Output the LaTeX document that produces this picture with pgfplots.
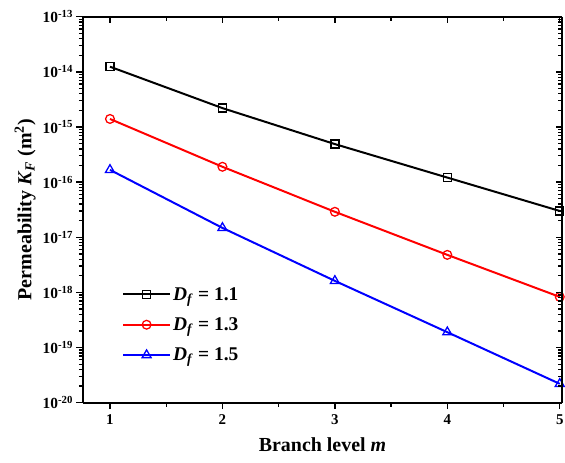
\documentclass[border=0pt]{standalone}
\usepackage{fontspec}
\setmainfont{Liberation Serif}
\usepackage{pgfplots}
\pgfplotsset{compat=1.18}
\pgfplotsset{
  common/.style={
    scale only axis, width=479bp, height=386bp,
    xmin=0.76, xmax=5.02, ymin=1e-20, ymax=1e-13,
    xtick={1,2,3,4,5}, minor x tick num=1,
    ytick={1e-20,1e-19,1e-18,1e-17,1e-16,1e-15,1e-14,1e-13},
    major tick length=6.5bp, minor tick length=4bp,
    every tick/.style={black, line width=1.3pt},
    axis line style={line width=1.8pt},
  }
}
\begin{document}
\begin{tikzpicture}
\begin{semilogyaxis}[common, name=main,
  axis x line*=bottom, axis y line*=left, tick align=outside,
  yticklabels={10\textsuperscript{-20},10\textsuperscript{-19},10\textsuperscript{-18},10\textsuperscript{-17},10\textsuperscript{-16},10\textsuperscript{-15},10\textsuperscript{-14},10\textsuperscript{-13}},
  yticklabel style={font=\bfseries\fontsize{15.5}{17}\selectfont},
  xticklabel style={font=\bfseries\fontsize{15}{17}\selectfont, yshift=-2bp},
  /pgf/number format/assume math mode=true,
  xlabel={\textbf{Branch level \textit{m}}},
  ylabel={\textbf{Permeability \textit{K}\textsubscript{\textit{F}} (m\textsuperscript{2})}},
  label style={font=\bfseries\fontsize{20}{22}\selectfont},
  xlabel style={yshift=-6bp},
  ylabel style={yshift=0bp},
  legend style={at={(0.075,0.31)}, anchor=north west, draw=none, fill=none,
    font=\bfseries\fontsize{19.5}{21}\selectfont, row sep=12bp},
  legend cell align=left,
  legend image code/.code={\draw[mark repeat=2, mark phase=2, line width=2pt] plot coordinates {(0bp,0bp) (23.5bp,0bp) (47bp,0bp)};},
]
\addplot[black, line width=2pt, mark=square, mark size=4pt, mark options={line width=1.3pt, fill=white}]
  coordinates {(1,1.24e-14) (2,2.2e-15) (3,4.9e-16) (4,1.21e-16) (5,3.0e-17)};
\addlegendentry{\textit{D}\textsubscript{\textit{f}} = 1.1}
\addplot[red, line width=2pt, mark=o, mark size=4.4pt, mark options={line width=1.3pt, fill=white}]
  coordinates {(1,1.4e-15) (2,1.9e-16) (3,2.9e-17) (4,4.8e-18) (5,8.3e-19)};
\addlegendentry{\textit{D}\textsubscript{\textit{f}} = 1.3}
\addplot[blue, line width=2pt, mark=triangle, mark size=5.2pt, mark options={line width=1.3pt, fill=white}]
  coordinates {(1,1.67e-16) (2,1.48e-17) (3,1.62e-18) (4,1.9e-19) (5,2.2e-20)};
\addlegendentry{\textit{D}\textsubscript{\textit{f}} = 1.5}
\end{semilogyaxis}
\begin{semilogyaxis}[common,
  axis x line*=top, axis y line*=right, tick align=inside,
  xticklabels={}, yticklabels={},
]
\end{semilogyaxis}
\pgfresetboundingbox
\path[use as bounding box] ([shift={(-83bp,-60bp)}]main.south west) rectangle ([shift={(3bp,16.7bp)}]main.north east);
\end{tikzpicture}
\end{document}
